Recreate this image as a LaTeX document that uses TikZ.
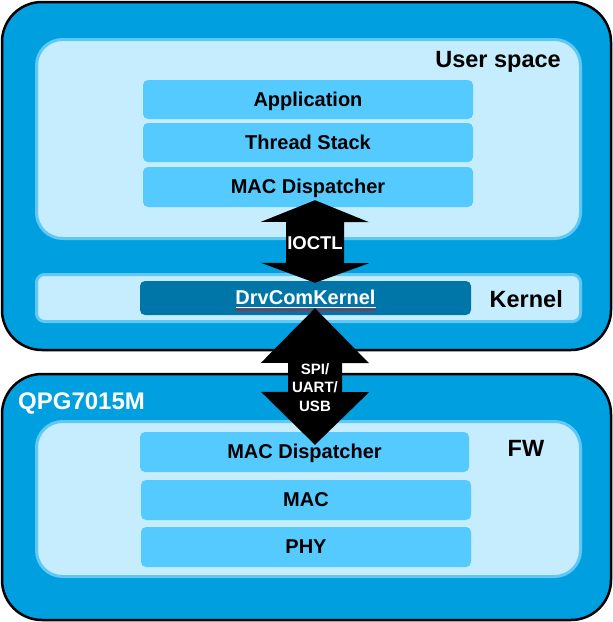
\documentclass[tikz,border=0pt]{standalone}
\usepackage{fontspec}
\setmainfont{Liberation Sans}
\usetikzlibrary{calc, decorations.pathmorphing}

\definecolor{chipblue}{RGB}{0,159,224}
\definecolor{panelblue}{RGB}{198,237,253}
\definecolor{panelrim}{RGB}{95,200,245}
\definecolor{layerblue}{RGB}{85,202,255}
\definecolor{drvblue}{RGB}{0,118,168}

\begin{document}
\begin{tikzpicture}[x=1pt, y=-1pt,
    outerbox/.style={rectangle, draw=black, line width=2.5pt, fill=chipblue, rounded corners=40pt, inner sep=0pt, minimum width=609pt},
    panel/.style={rectangle, draw=panelrim, line width=3pt, fill=panelblue, rounded corners=26pt, inner sep=0pt, minimum width=544pt},
    layer/.style={rectangle, fill=layerblue, rounded corners=5pt, inner sep=0pt, minimum width=330pt, minimum height=39pt, text height=13pt, text depth=0pt, font=\fontsize{20}{23}\selectfont\bfseries},
    tag/.style={inner sep=0pt, font=\fontsize{23.5}{26}\selectfont\bfseries},
    blockarrow/.style={fill=black},
    arrowtext/.style={text=white, inner sep=0pt, align=center, font=\fontsize{18.5}{20}\selectfont\bfseries}
]
\useasboundingbox (0,0) rectangle (613,622);

% Host und Modul
\node[outerbox, minimum height=348pt] (host) at (306.5,176) {};
\node[outerbox, minimum height=246pt] (chip) at (306.5,497) {};

% Bereiche
\node[panel, minimum height=199pt] (user) at (308.5,139) {};
\node[panel, minimum height=47pt, rounded corners=8pt] (kernel) at (308.5,298) {};
\node[panel, minimum height=155pt] (fw) at (308.5,499) {};

% Schichten User space
\node[layer] (app) at (308,99.5) {Application};
\node[layer] (thread) at (308,142.5) {Thread Stack};
\node[layer, minimum height=40pt] (udisp) at (308,187) {MAC Dispatcher};

% Kernel
\node[layer, fill=drvblue, text=white, minimum width=331pt, minimum height=34pt] (drv) at (305.5,298) {DrvComKernel};
\draw[white, line width=1pt] ($(drv.center)+(-70,9)$) -- ($(drv.center)+(70,9)$);
\draw[red, line width=0.7pt, decorate, decoration={snake, amplitude=0.8pt, segment length=3pt}]
    ($(drv.center)+(-70,12)$) -- ($(drv.center)+(70,12)$);

% Schichten FW
\node[layer, minimum width=329pt, minimum height=40pt] (fwdisp) at (304.5,452) {MAC Dispatcher};
\node[layer, minimum height=40pt] (mac) at (306,500) {MAC};
\node[layer, minimum height=40pt] (phy) at (306,547) {PHY};

% Beschriftungen
\node[tag, anchor=east] (usrlbl) at (561,62) {User space};
\node[tag, anchor=east] (krnlbl) at (563,299) {Kernel};
\node[tag] (fwlbl) at (526,448) {FW};
\node[tag, anchor=west, text=white, font=\fontsize{24}{26}\selectfont\bfseries] (chiplbl) at (18,403) {QPG7015M};

% IOCTL
\coordinate (ioctl top) at ($(udisp.south)+(7,-7)$);
\coordinate (ioctl bot) at ($(drv.north)+(9.5,2)$);
\fill[blockarrow] (ioctl top) -- ++(54,22) -- ++(-25,0) -- ++(0,41) -- ++(25,0) -- (ioctl bot)
    -- ++(-54,-20) -- ++(25,0) -- ++(0,-41) -- ++(-25,0) -- cycle;
\node[arrowtext] (ioctl) at ($(ioctl top)!0.52!(ioctl bot)$) {IOCTL};

% SPI/UART/USB
\coordinate (spi top) at ($(drv.south)+(9.5,-7)$);
\coordinate (spi bot) at ($(fwdisp.north)+(10.5,13)$);
\fill[blockarrow] (spi top) -- ++(54,55) -- ++(-27,0) -- ++(0,29) -- ++(27,0) -- (spi bot)
    -- ++(-54,-53) -- ++(27,0) -- ++(0,-29) -- ++(-27,0) -- cycle;
\node[arrowtext, font=\fontsize{15}{18.5}\selectfont\bfseries] (spi) at ($(spi top)!0.578!(spi bot)$) {SPI/\\UART/\\USB};

\end{tikzpicture}
\end{document}
